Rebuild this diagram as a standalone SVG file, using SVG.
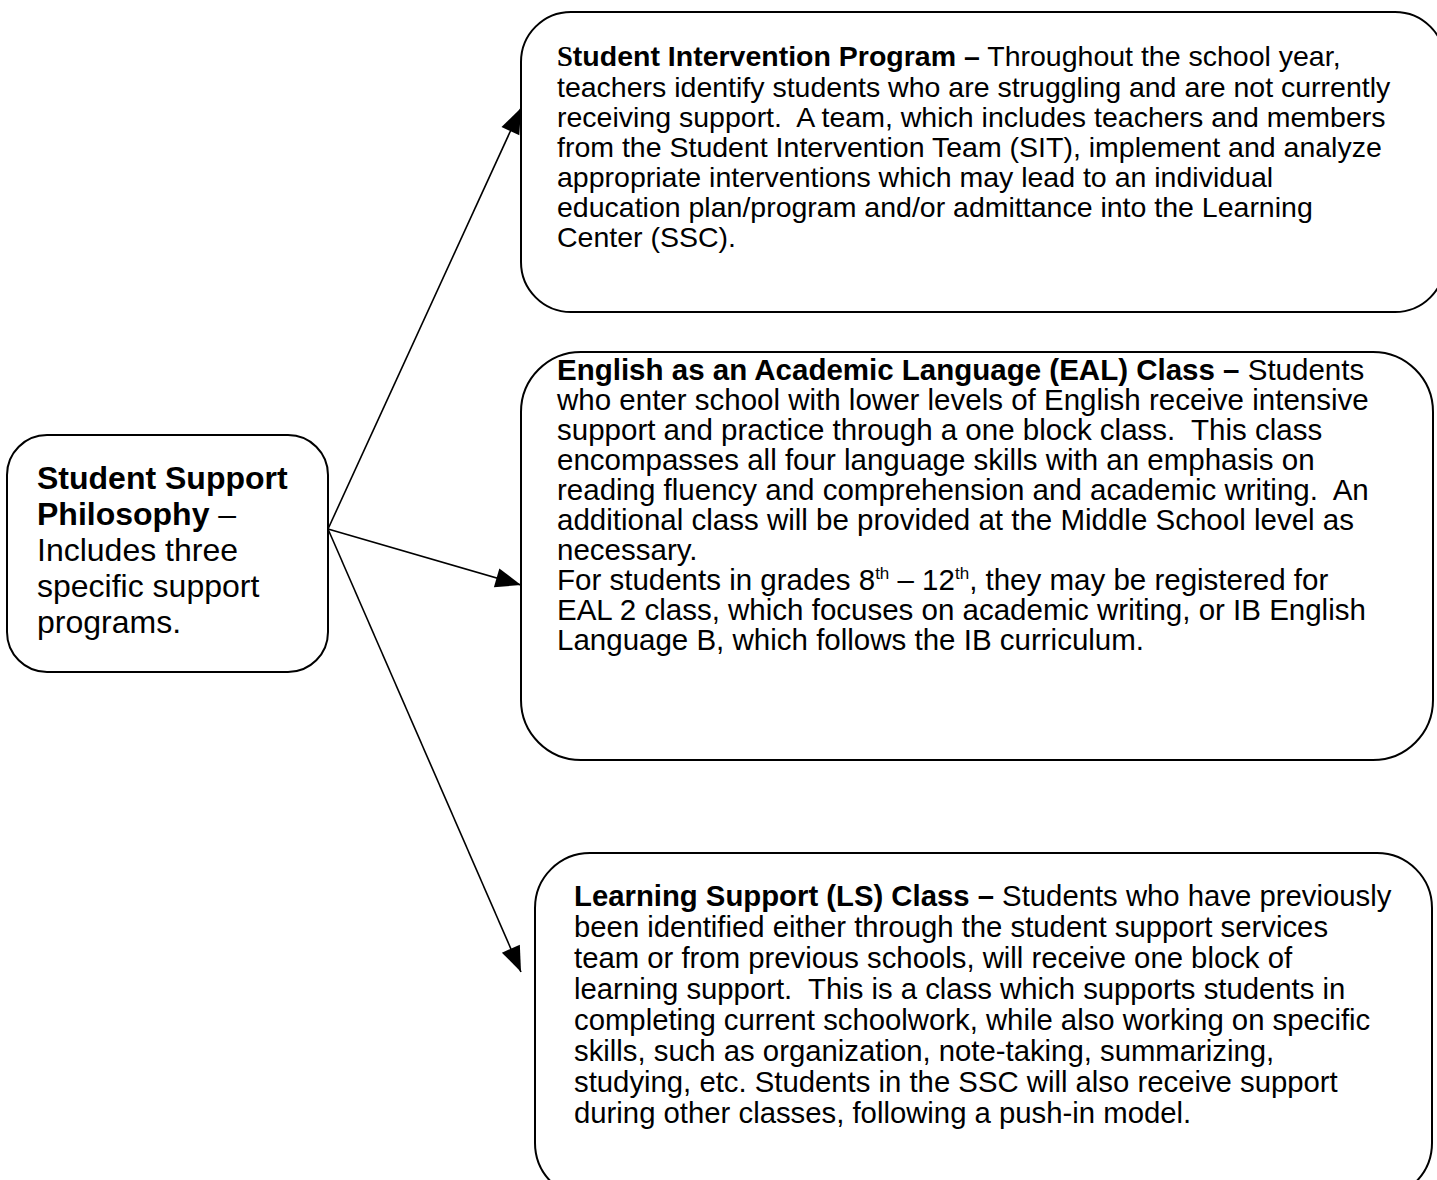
<svg xmlns="http://www.w3.org/2000/svg" width="1437" height="1180" viewBox="0 0 1437 1180">
<style>
.box{fill:#fff;stroke:#000;stroke-width:2}
.t{font-family:"Liberation Sans",Arial,sans-serif;font-size:29px;fill:#000}
.tl{font-family:"Liberation Sans",Arial,sans-serif;font-size:32px;fill:#000}
.b{font-weight:bold}
.sup{font-size:17px}
.conn{stroke:#000;stroke-width:1.6;fill:none;marker-end:url(#ah)}
</style>
<defs>
<marker id="ah" markerUnits="userSpaceOnUse" markerWidth="30" markerHeight="30" viewBox="-24 -10 26 20" refX="0" refY="0" orient="auto">
<path d="M0,0 L-22,-8.5 L-22,8.5 Z" fill="#000"/>
</marker>
</defs>
<rect width="1437" height="1180" fill="#fff"/>
<g id="connectors">
<line class="conn" x1="328" y1="529" x2="521" y2="108"/>
<line class="conn" x1="328" y1="529" x2="521" y2="585"/>
<line class="conn" x1="328" y1="529" x2="521" y2="972"/>
</g>
<g id="philosophy">
<rect class="box" x="7" y="435" width="321" height="237" rx="40"/>
<text class="tl" xml:space="preserve"><tspan class="b" x="37" y="489">Student Support</tspan><tspan x="37" y="525"><tspan class="b">Philosophy</tspan> –</tspan><tspan x="37" y="561">Includes three</tspan><tspan x="37" y="597">specific support</tspan><tspan x="37" y="633">programs.</tspan></text>
</g>
<g id="sip">
<rect class="box" x="521" y="12" width="924" height="300" rx="50"/>
<text class="t" style="font-size:28.5px" xml:space="preserve"><tspan x="557" y="66"><tspan class="b" style="font-family:'Liberation Serif',serif">S</tspan><tspan class="b">tudent Intervention Program –</tspan> Throughout the school year,</tspan><tspan x="557" y="97">teachers identify students who are struggling and are not currently</tspan><tspan x="557" y="127">receiving support.  A team, which includes teachers and members</tspan><tspan x="557" y="157">from the Student Intervention Team (SIT), implement and analyze</tspan><tspan x="557" y="187">appropriate interventions which may lead to an individual</tspan><tspan x="557" y="217">education plan/program and/or admittance into the Learning</tspan><tspan x="557" y="247">Center (SSC).</tspan></text>
</g>
<g id="eal">
<rect class="box" x="521" y="352" width="912" height="408" rx="60"/>
<text class="t" style="font-size:29.5px" xml:space="preserve"><tspan x="557" y="380"><tspan class="b">English as an Academic Language (EAL) Class –</tspan> Students</tspan><tspan x="557" y="410">who enter school with lower levels of English receive intensive</tspan><tspan x="557" y="440">support and practice through a one block class.  This class</tspan><tspan x="557" y="470">encompasses all four language skills with an emphasis on</tspan><tspan x="557" y="500">reading fluency and comprehension and academic writing.  An</tspan><tspan x="557" y="530">additional class will be provided at the Middle School level as</tspan><tspan x="557" y="560">necessary.</tspan><tspan x="557" y="590">For students in grades 8<tspan class="sup" dy="-11">th</tspan><tspan dy="11"> – 12</tspan><tspan class="sup" dy="-11">th</tspan><tspan dy="11">, they may be registered for</tspan></tspan><tspan x="557" y="620">EAL 2 class, which focuses on academic writing, or IB English</tspan><tspan x="557" y="650">Language B, which follows the IB curriculum.</tspan></text>
</g>
<g id="ls">
<rect class="box" x="535" y="853" width="897" height="345" rx="55"/>
<text class="t" style="font-size:29.3px" xml:space="preserve"><tspan x="574" y="906"><tspan class="b">Learning Support (LS) Class –</tspan> Students who have previously</tspan><tspan x="574" y="937">been identified either through the student support services</tspan><tspan x="574" y="968">team or from previous schools, will receive one block of</tspan><tspan x="574" y="999">learning support.  This is a class which supports students in</tspan><tspan x="574" y="1030">completing current schoolwork, while also working on specific</tspan><tspan x="574" y="1061">skills, such as organization, note-taking, summarizing,</tspan><tspan x="574" y="1092">studying, etc. Students in the SSC will also receive support</tspan><tspan x="574" y="1123">during other classes, following a push-in model.</tspan></text>
</g>
</svg>
